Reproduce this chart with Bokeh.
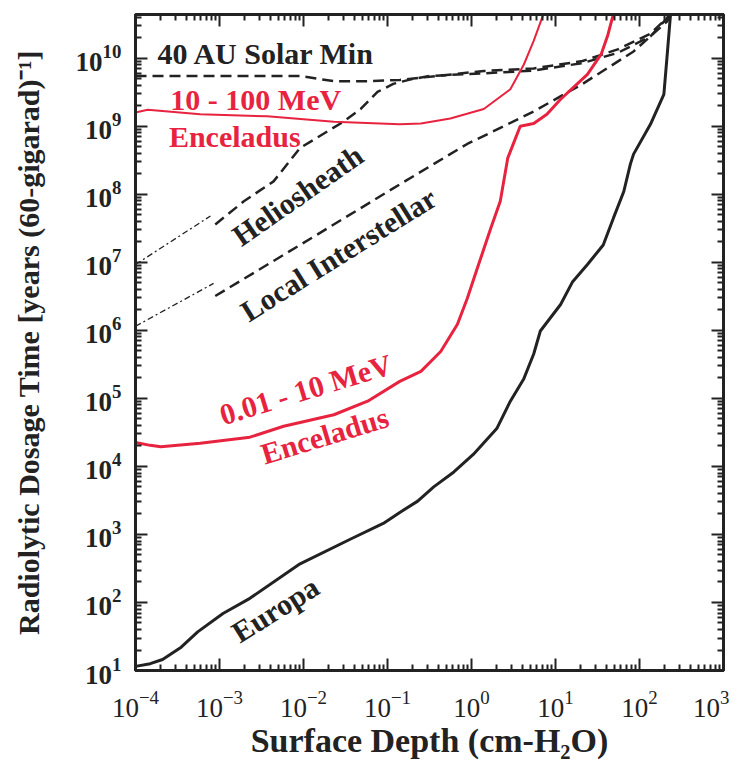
from bokeh.plotting import figure
from bokeh.models import LogAxis, FixedTicker, CustomJSTickFormatter, Range1d, LogTickFormatter
from bokeh.core.properties import value
from bokeh.embed import file_html
from bokeh.resources import INLINE

# ---------------- data ----------------
x_decades = [-4, -3, -2, -1, 0, 1, 2, 3]
y_decades = [1, 2, 3, 4, 5, 6, 7, 8, 9, 10]

europa_depth = [1.0e-4, 1.5e-4, 2.1e-4, 3.5e-4, 5.5e-4, 1.1e-3, 2.3e-3, 9.1e-3, 0.036, 0.089,
                0.143, 0.229, 0.355, 0.617, 1.05, 2.0, 2.9, 4.2, 5.5, 6.6, 11.5, 16, 24, 37, 49, 65,
                78, 85, 135, 195, 214, 234]
europa_time = [11.5, 12.6, 14.5, 22, 37, 69, 115, 370, 850, 1450,
               2140, 3090, 5000, 8300, 15000, 36000, 91000, 1.95e5, 4.5e5, 9.8e5, 2.4e6, 5.2e6, 9.3e6,
               1.8e7, 4.5e7, 1.1e8, 2.8e8, 3.9e8, 1.07e9, 2.95e9, 1.15e10, 4.4e10]

enc_low_depth = [1e-4, 1.5e-4, 2.0e-4, 5.9e-4, 2.3e-3, 5.8e-3, 0.023, 0.058, 0.14, 0.25, 0.43,
                 0.68, 0.89, 1.17, 1.7, 2.2, 2.7, 3.8, 5.5, 7.9, 11.5, 24, 35, 42, 49]
enc_low_time = [22400, 20400, 19500, 21900, 26900, 38900, 57500, 91000, 1.78e5, 2.5e5, 4.9e5,
                1.23e6, 2.95e6, 8.1e6, 3.2e7, 7.9e7, 3.4e8, 1.0e9, 1.1e9, 1.5e9, 2.5e9, 5.8e9,
                1.15e10, 2.2e10, 4.5e10]

enc_high_depth = [1e-4, 1.4e-4, 5.9e-4, 3.7e-3, 0.023, 0.14, 0.25, 0.56, 1.4, 2.9, 4.2, 5.5, 7.2]
enc_high_time = [1.6e9, 1.75e9, 1.5e9, 1.4e9, 1.17e9, 1.07e9, 1.1e9, 1.3e9, 1.8e9, 3.5e9, 8.1e9,
                 1.8e10, 4.5e10]

solar_depth = [1e-4, 9.1e-3, 0.023, 0.058, 0.14, 1.4, 5.5, 21, 55, 135, 234]
solar_time = [5.5e9, 5.5e9, 4.6e9, 4.6e9, 4.8e9, 6.5e9, 7.1e9, 9.1e9, 1.35e10, 2.3e10, 4.4e10]

helio_thin_depth = [1e-4, 7.8e-4]
helio_thin_time = [9.3e6, 4.8e7]
helio_depth = [8.9e-4, 1.95e-3, 4.4e-3, 9.1e-3, 0.0195, 0.030, 0.048, 0.076, 0.117, 0.19, 0.32,
               1.4, 5.5, 21, 55, 135, 234]
helio_time = [3.6e7, 7.9e7, 1.55e8, 4.8e8, 8.5e8, 1.17e9, 1.8e9, 3.2e9, 4.2e9, 4.9e9, 5.5e9,
              6.0e9, 6.6e9, 8.5e9, 1.2e10, 2.1e10, 4.4e10]

lism_thin_depth = [1e-4, 8.5e-4]
lism_thin_time = [1.15e6, 4.9e6]
lism_depth = [8.9e-4, 9.1e-3, 0.14, 0.89, 5.5, 21, 85, 214, 234]
lism_time = [3.2e6, 1.8e7, 1.4e8, 5.5e8, 1.65e9, 4.2e9, 1.26e10, 3.5e10, 4.4e10]

# ---------------- figure ----------------
BLACK = "#222222"
RED = "#e8233f"
SERIF = "Liberation Serif"

p = figure(frame_width=588, frame_height=656, x_axis_type="log", y_axis_type="log",
           x_range=Range1d(1e-4, 1e3), y_range=Range1d(10, 4.4e10),
           output_backend="svg", toolbar_location=None,
           min_border_left=135, min_border_right=6, min_border_top=14, min_border_bottom=94)
p.xgrid.visible = False
p.ygrid.visible = False
p.outline_line_color = BLACK
p.outline_line_width = 3
p.background_fill_color = "white"
p.border_fill_color = "white"

xticker = FixedTicker(ticks=[10.0 ** d for d in x_decades],
                      minor_ticks=[m * 10.0 ** d for d in x_decades[:-1] for m in range(2, 10)])
yticker = FixedTicker(ticks=[10.0 ** d for d in y_decades],
                      minor_ticks=[m * 10.0 ** d for d in y_decades for m in range(2, 10)])


def style(ax):
    ax.axis_line_color = BLACK
    ax.axis_line_width = 3
    ax.major_tick_line_color = BLACK
    ax.major_tick_line_width = 2
    ax.minor_tick_line_color = BLACK
    ax.minor_tick_line_width = 2
    ax.major_tick_in = 12
    ax.major_tick_out = 0
    ax.minor_tick_in = 6
    ax.minor_tick_out = 0


xa = p.xaxis[0]
xa.ticker = xticker
xa.formatter = LogTickFormatter()
style(xa)
xa.major_label_text_font = SERIF
xa.major_label_text_font_size = "27px"
xa.major_label_text_color = BLACK
xa.major_label_standoff = 20
xa.axis_label = "Surface Depth (cm-H₂O)"
xa.axis_label_text_font = SERIF
xa.axis_label_text_font_style = "bold"
xa.axis_label_text_font_size = "34px"
xa.axis_label_text_color = BLACK
xa.axis_label_standoff = 2

ya = p.yaxis[0]
ya.ticker = yticker
ya.formatter = LogTickFormatter()
style(ya)
ya.major_label_text_font = SERIF
ya.major_label_text_font_style = "bold"
ya.major_label_text_font_size = "27px"
ya.major_label_text_color = BLACK
ya.major_label_standoff = 14
ya.axis_label = "Radiolytic Dosage Time [years (60-gigarad)⁻¹]"
ya.axis_label_text_font = SERIF
ya.axis_label_text_font_style = "bold"
ya.axis_label_text_font_size = "30px"
ya.axis_label_text_color = BLACK
ya.axis_label_standoff = 28

blank = "return ''"
top = LogAxis(ticker=xticker, formatter=CustomJSTickFormatter(code=blank),
              major_label_text_font_size="0px", major_label_standoff=0)
style(top)
p.add_layout(top, "above")
right = LogAxis(ticker=yticker, formatter=CustomJSTickFormatter(code=blank),
                major_label_text_font_size="0px", major_label_standoff=0)
style(right)
p.add_layout(right, "right")

# ---------------- curves ----------------
p.line(solar_depth, solar_time, line_color=BLACK, line_width=2.5, line_dash="11 6")
p.line(helio_thin_depth, helio_thin_time, line_color=BLACK, line_width=1.3, line_dash="6 3 2 3")
p.line(helio_depth, helio_time, line_color=BLACK, line_width=2.5, line_dash="11 6")
p.line(lism_thin_depth, lism_thin_time, line_color=BLACK, line_width=1.3, line_dash="6 3 2 3")
p.line(lism_depth, lism_time, line_color=BLACK, line_width=2.5, line_dash="11 6")
p.line(enc_high_depth, enc_high_time, line_color=RED, line_width=2)
p.line(enc_low_depth, enc_low_time, line_color=RED, line_width=3)
p.line(europa_depth, europa_time, line_color=BLACK, line_width=3)

# ---------------- labels ----------------
def lab(x, y, t, color, angle=0.0, align="center", baseline="middle"):
    p.text(x=[x], y=[y], text=[t], angle=angle, angle_units="deg",
           text_color=color, text_font=value(SERIF), text_font_style="bold",
           text_font_size="30px", text_align=align, text_baseline=baseline)


lab(1.83e-4, 1.16e10, "40 AU Solar Min", BLACK, align="left")
lab(2.6e-4, 2.45e9, "10 - 100 MeV", RED, align="left")
lab(2.5e-4, 7.1e8, "Enceladus", RED, align="left")
lab(8.5e-3, 9.7e7, "Heliosheath", BLACK, angle=35)
lab(0.026, 1.31e7, "Local Interstellar", BLACK, angle=32)
lab(0.0106, 1.36e5, "0.01 - 10 MeV", RED, angle=17)
lab(0.0178, 2.86e4, "Enceladus", RED, angle=17)
lab(4.6e-3, 79, "Europa", BLACK, angle=32)

open("out.html", "w").write(file_html(p, INLINE))
